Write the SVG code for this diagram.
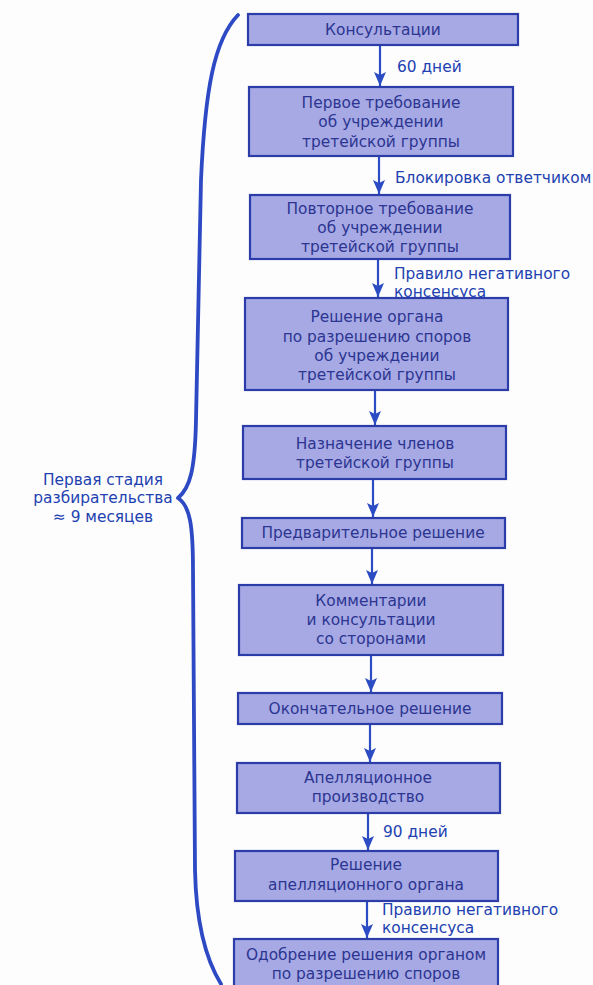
<svg xmlns="http://www.w3.org/2000/svg" width="593" height="985" viewBox="0 0 593 985">
<defs>
<style>
.box rect{fill:#a6a9e4;stroke:#2c3ca8;stroke-width:2.2}
.box text{font-family:"DejaVu Sans","Verdana",sans-serif;font-size:15.4px;fill:#2c3591;text-anchor:middle}
.lbl{font-family:"DejaVu Sans","Verdana",sans-serif;font-size:15.4px;fill:#2241b0}
.conn line{stroke:#2c4cc4;stroke-width:2.2}
</style>
<marker id="ah" markerWidth="14" markerHeight="12" viewBox="0 0 14 12" refX="14" refY="6" orient="auto" markerUnits="userSpaceOnUse">
<path d="M0,0 L14,6 L0,12 L3,6 Z" fill="#2c4cc4"/>
</marker>
</defs>
<rect width="593" height="985" fill="#fdfdfe"/>
<g id="connectors" class="conn">
<line x1="380" y1="45" x2="380" y2="86" marker-end="url(#ah)"/>
<line x1="379" y1="156" x2="379" y2="194" marker-end="url(#ah)"/>
<line x1="378" y1="259" x2="378" y2="297" marker-end="url(#ah)"/>
<line x1="375" y1="390" x2="375" y2="425" marker-end="url(#ah)"/>
<line x1="373" y1="479" x2="373" y2="517" marker-end="url(#ah)"/>
<line x1="372" y1="548" x2="372" y2="584" marker-end="url(#ah)"/>
<line x1="371" y1="655" x2="371" y2="692" marker-end="url(#ah)"/>
<line x1="370" y1="724" x2="370" y2="762" marker-end="url(#ah)"/>
<line x1="368" y1="813" x2="368" y2="850" marker-end="url(#ah)"/>
<line x1="367" y1="901" x2="367" y2="938" marker-end="url(#ah)"/>
</g>
<g id="labels">
<text class="lbl" x="397" y="72">60 дней</text>
<text class="lbl" x="395" y="183">Блокировка ответчиком</text>
<text class="lbl" x="394" y="279">Правило негативного</text>
<text class="lbl" x="394" y="297">консенсуса</text>
<text class="lbl" x="383" y="837">90 дней</text>
<text class="lbl" x="382" y="915">Правило негативного</text>
<text class="lbl" x="382" y="933">консенсуса</text>
</g>
<g id="n1" class="box"><rect x="248" y="14" width="270" height="31"/><text x="383" y="35">Консультации</text></g>
<g id="n2" class="box"><rect x="249" y="87" width="264" height="69"/><text x="381" y="108">Первое требование</text><text x="381" y="127">об учреждении</text><text x="381" y="147">третейской группы</text></g>
<g id="n3" class="box"><rect x="250" y="195" width="260" height="64"/><text x="380" y="214">Повторное требование</text><text x="380" y="233">об учреждении</text><text x="380" y="252">третейской группы</text></g>
<g id="n4" class="box"><rect x="245" y="298" width="263" height="92"/><text x="377" y="322">Решение органа</text><text x="377" y="342">по разрешению споров</text><text x="377" y="361">об учреждении</text><text x="377" y="380">третейской группы</text></g>
<g id="n5" class="box"><rect x="243" y="426" width="263" height="53"/><text x="375" y="449">Назначение членов</text><text x="375" y="468">третейской группы</text></g>
<g id="n6" class="box"><rect x="242" y="518" width="263" height="30"/><text x="373" y="538">Предварительное решение</text></g>
<g id="n7" class="box"><rect x="239" y="585" width="264" height="70"/><text x="371" y="606">Комментарии</text><text x="371" y="625">и консультации</text><text x="371" y="644">со сторонами</text></g>
<g id="n8" class="box"><rect x="238" y="693" width="264" height="31"/><text x="370" y="714">Окончательное решение</text></g>
<g id="n9" class="box"><rect x="237" y="763" width="263" height="50"/><text x="368" y="783">Апелляционное</text><text x="368" y="802">производство</text></g>
<g id="n10" class="box"><rect x="235" y="851" width="263" height="50"/><text x="366" y="870">Решение</text><text x="366" y="890">апелляционного органа</text></g>
<g id="n11" class="box"><rect x="234" y="939" width="264" height="52"/><text x="366" y="960">Одобрение решения органом</text><text x="366" y="979">по разрешению споров</text></g>
<g id="brace">
<path d="M238,15 C214,40 205,90 201,180 L196,420 C195,470 190,488 178,498 C190,506 193,525 193,570 L195,870 C196,920 205,958 221,984" fill="none" stroke="#2d4ac4" stroke-width="3.8" stroke-linecap="round" stroke-linejoin="round"/>
<text class="lbl" x="103" y="485" text-anchor="middle">Первая стадия</text>
<text class="lbl" x="103" y="503" text-anchor="middle">разбирательства</text>
<text class="lbl" x="103" y="522" text-anchor="middle">≈ 9 месяцев</text>
</g>
</svg>
